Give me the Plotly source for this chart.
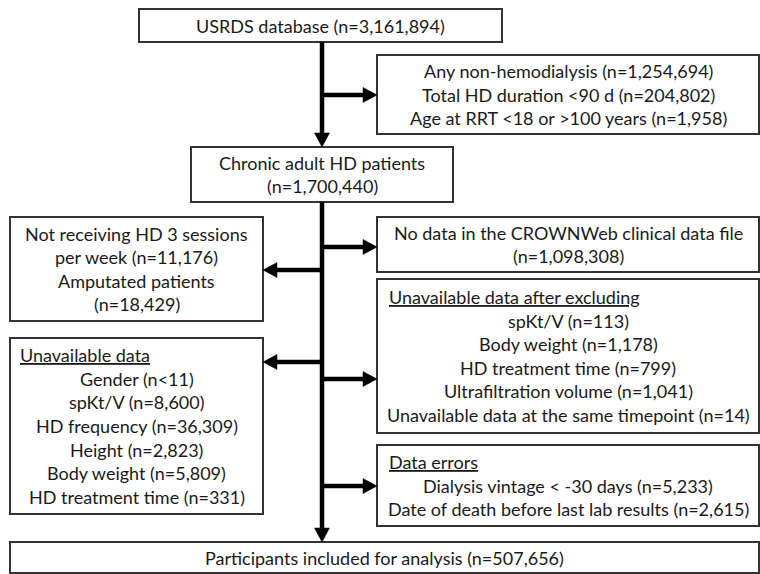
import plotly.graph_objects as go

# ---------------- data (texts and counts) ----------------
step_labels = ["USRDS database", "Chronic adult HD patients", "Participants included for analysis"]
step_counts = ["3,161,894", "1,700,440", "507,656"]

excl1_items = ["Any non-hemodialysis", "Total HD duration <90 d", "Age at RRT <18 or >100 years"]
excl1_counts = ["n=1,254,694", "n=204,802", "n=1,958"]

left1_lines = ["Not receiving HD 3 sessions", "per week (n=11,176)", "Amputated patients", "(n=18,429)"]

right2_lines = ["No data in the CROWNWeb clinical data file", "(n=1,098,308)"]

left2_header = "Unavailable data"
left2_items = ["Gender", "spKt/V", "HD frequency", "Height", "Body weight", "HD treatment time"]
left2_counts = ["n<11", "n=8,600", "n=36,309", "n=2,823", "n=5,809", "n=331"]

right3_header = "Unavailable data after excluding"
right3_items = ["spKt/V", "Body weight", "HD treatment time", "Ultrafiltration volume",
                "Unavailable data at the same timepoint"]
right3_counts = ["n=113", "n=1,178", "n=799", "n=1,041", "n=14"]

right4_header = "Data errors"
right4_items = ["Dialysis vintage < -30 days", "Date of death before last lab results"]
right4_counts = ["n=5,233", "n=2,615"]

# ---------------- layout geometry ----------------
W, H = 760, 574
FONT = "Lato"
FS = 18
LS = 23.6  # line spacing
TXT = "#1a1a1a"
BORDER = "#333333"

boxes = {
    "top": (139, 502, 9, 42),
    "excl1": (377, 759, 55, 134),
    "chronic": (191, 453, 147, 202),
    "left1": (10, 263, 217, 321),
    "right2": (377, 759, 217, 272),
    "right3": (377, 759, 279, 433),
    "left2": (10, 263, 338, 514),
    "right4": (377, 759, 445, 526),
    "final": (10, 759, 542, 573),
}

shapes = []
annotations = []


def add_box(key):
    x0, x1, y0, y1 = boxes[key]
    shapes.append(dict(type="rect", x0=x0, x1=x1, y0=y0, y1=y1,
                       line=dict(color=BORDER, width=2), fillcolor="white", layer="below"))


def add_lines(key, lines, header=None, inset=9):
    x0, x1, y0, y1 = boxes[key]
    allines = ([header] if header else []) + lines
    n = len(allines)
    cy = (y0 + y1) / 2
    for i, t in enumerate(allines):
        y = cy + (i - (n - 1) / 2) * LS
        if header and i == 0:
            annotations.append(dict(x=x0 + inset, y=y, text="<u>" + t + "</u>", showarrow=False,
                                    xanchor="left", yanchor="middle",
                                    font=dict(family=FONT, size=FS, color=TXT)))
        else:
            annotations.append(dict(x=(x0 + x1) / 2, y=y, text=t, showarrow=False,
                                    xanchor="center", yanchor="middle",
                                    font=dict(family=FONT, size=FS, color=TXT)))


for k in boxes:
    add_box(k)

add_lines("top", [f"{step_labels[0]} (n={step_counts[0]})"])
add_lines("excl1", [f"{a} ({b})" for a, b in zip(excl1_items, excl1_counts)])
add_lines("chronic", [step_labels[1], f"(n={step_counts[1]})"])
add_lines("left1", left1_lines)
add_lines("right2", right2_lines)
add_lines("right3", [f"{a} ({b})" for a, b in zip(right3_items, right3_counts)], header=right3_header, inset=10)
add_lines("left2", [f"{a} ({b})" for a, b in zip(left2_items, left2_counts)], header=left2_header, inset=8)
add_lines("right4", [f"{a} ({b})" for a, b in zip(right4_items, right4_counts)], header=right4_header, inset=10)
add_lines("final", [f"{step_labels[2]} (n={step_counts[2]})"])

# ---------------- arrows ----------------
SPINE_X = 322
LW = 4.5
HL = 14   # head length
HW = 7.5  # head half width
BLACK = "#000000"


def vline_arrow(x, ya, yb):
    shapes.append(dict(type="line", x0=x, x1=x, y0=ya, y1=yb - HL + 1,
                       line=dict(color=BLACK, width=LW)))
    shapes.append(dict(type="path",
                       path=f"M {x-HW},{yb-HL} L {x+HW},{yb-HL} L {x},{yb} Z",
                       fillcolor=BLACK, line=dict(color=BLACK, width=0.5)))


def harrow(y, xa, xb):
    d = 1 if xb > xa else -1
    shapes.append(dict(type="line", x0=xa, x1=xb - d * (HL - 1), y0=y, y1=y,
                       line=dict(color=BLACK, width=LW)))
    shapes.append(dict(type="path",
                       path=f"M {xb-d*HL},{y-HW} L {xb-d*HL},{y+HW} L {xb},{y} Z",
                       fillcolor=BLACK, line=dict(color=BLACK, width=0.5)))


vline_arrow(SPINE_X, boxes["top"][3], boxes["chronic"][2])
vline_arrow(SPINE_X, boxes["chronic"][3], boxes["final"][2])
harrow(95, SPINE_X, boxes["excl1"][0])
harrow(247, SPINE_X, boxes["right2"][0])
harrow(270, SPINE_X, boxes["left1"][1])
harrow(362, SPINE_X, boxes["left2"][1])
harrow(379, SPINE_X, boxes["right3"][0])
harrow(486, SPINE_X, boxes["right4"][0])

fig = go.Figure()
fig.update_layout(
    width=W, height=H,
    margin=dict(l=0, r=0, t=0, b=0),
    paper_bgcolor="white", plot_bgcolor="white",
    xaxis=dict(range=[0, W], visible=False, fixedrange=True),
    yaxis=dict(range=[H, 0], visible=False, fixedrange=True),
    shapes=shapes, annotations=annotations, showlegend=False,
)
fig.write_html("out.html", config={"displayModeBar": False},
               post_script="document.body.style.margin='0';document.body.style.padding='0';")
